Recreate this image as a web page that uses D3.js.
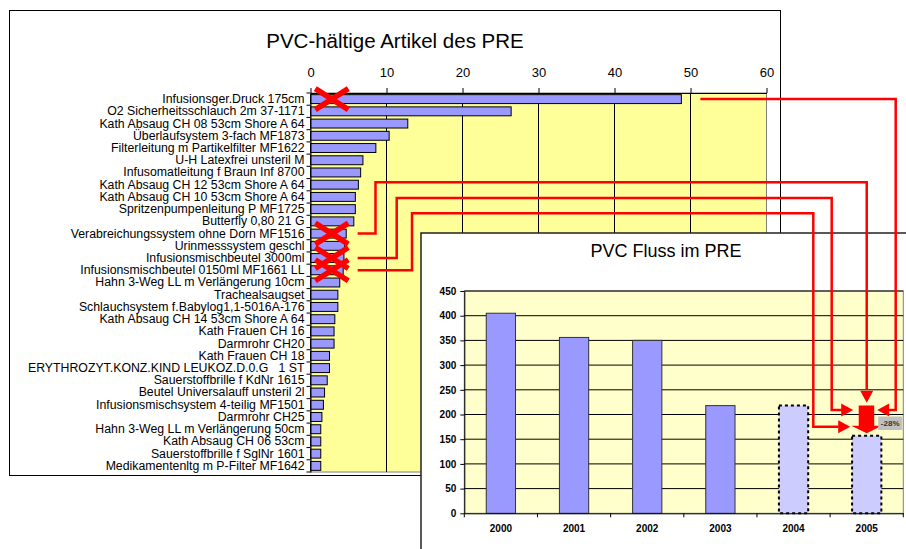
<!DOCTYPE html>
<html>
<head>
<meta charset="utf-8">
<script src="https://cdn.jsdelivr.net/npm/d3@7"></script>
<style>
  body { margin: 0; background: #fff; }
  svg { display: block; font-family: Arial, "Liberation Sans", sans-serif; }
</style>
</head>
<body>
<svg width="906" height="549"></svg>
<script>
// --- data: PVC-haltige Artikel (Stueckzahl)
var artikel = [
  "Infusionsger.Druck 175cm", "O2 Sicherheitsschlauch 2m 37-1171", "Kath Absaug CH 08 53cm Shore A 64",
  "Überlaufsystem 3-fach MF1873", "Filterleitung m Partikelfilter MF1622", "U-H Latexfrei unsteril M",
  "Infusomatleitung f Braun Inf 8700", "Kath Absaug CH 12 53cm Shore A 64", "Kath Absaug CH 10 53cm Shore A 64",
  "Spritzenpumpenleitung P MF1725", "Butterfly 0,80 21 G", "Verabreichungssystem ohne Dorn MF1516",
  "Urinmesssystem geschl", "Infusionsmischbeutel 3000ml", "Infusionsmischbeutel 0150ml MF1661 LL",
  "Hahn 3-Weg LL m Verlängerung 10cm", "Trachealsaugset", "Schlauchsystem f.Babylog1,1-5016A-176",
  "Kath Absaug CH 14 53cm Shore A 64", "Kath Frauen CH 16", "Darmrohr CH20", "Kath Frauen CH 18",
  "ERYTHROZYT.KONZ.KIND LEUKOZ.D.0.G\u00a0\u00a0\u00a01 ST", "Sauerstoffbrille f KdNr 1615",
  "Beutel Universalauff unsteril 2l", "Infusionsmischsystem 4-teilig MF1501", "Darmrohr CH25",
  "Hahn 3-Weg LL m Verlängerung 50cm", "Kath Absaug CH 06 53cm", "Sauerstoffbrille f SglNr 1601",
  "Medikamentenltg m P-Filter MF1642"
];
var artikelMenge = [48.8, 26.4, 12.8, 10.35, 8.6, 6.9, 6.6, 6.3, 5.9, 5.9, 5.7, 4.7, 4.5, 4.4, 4.3,
  3.85, 3.6, 3.6, 3.2, 3.1, 3.1, 2.5, 2.5, 2.2, 1.85, 1.7, 1.5, 1.35, 1.35, 1.35, 1.35];
var gestrichen = [0, 11, 13, 14];          // index of crossed-out articles
var artikelTicks = [0, 10, 20, 30, 40, 50, 60];

// --- data: PVC Fluss
var jahre = ["2000", "2001", "2002", "2003", "2004", "2005"];
var pvcFluss = [405, 356, 350, 218, 218, 157];
var prognose = [false, false, false, false, true, true];
var flussTicks = [0, 50, 100, 150, 200, 250, 300, 350, 400, 450];
var reduktion = "-28%";

var svg = d3.select('svg');
var red = '#ff0000';

// ================= chart 1 =================
svg.append('rect')
  .attr('x', 9.5).attr('y', 10.5).attr('width', 771).attr('height', 465)
  .attr('fill', '#fff').attr('stroke', '#000').attr('stroke-width', 1);

svg.append('text')
  .attr('x', 395).attr('y', 48)
  .attr('text-anchor', 'middle')
  .style('font-size', '20.5px')
  .text('PVC-hältige Artikel des PRE');

var x1 = d3.scaleLinear().domain([0, 60]).range([310.5, 766.5]);
var y1 = d3.scaleBand().domain(artikel).range([93, 472]).paddingInner(0.27).paddingOuter(0.135);
function rowY(i) { return y1(artikel[i]) + y1.bandwidth() / 2; }

svg.append('rect')
  .attr('x', x1(0)).attr('y', 93)
  .attr('width', x1(60) - x1(0)).attr('height', 379)
  .attr('fill', '#ffff99').attr('stroke', '#808080').attr('stroke-width', 1);

svg.append('g').selectAll('line')
  .data(artikelTicks.slice(1, -1))
  .join('line')
  .attr('x1', d => x1(d)).attr('x2', d => x1(d))
  .attr('y1', 93).attr('y2', 472)
  .attr('stroke', '#000').attr('stroke-width', 1);

svg.append('g')
  .selectAll('.bar')
  .data(artikelMenge)
  .join('rect')
  .attr('class', 'bar')
  .attr('x', x1(0))
  .attr('y', (d, i) => y1(artikel[i]))
  .attr('width', d => x1(d) - x1(0))
  .attr('height', y1.bandwidth())
  .attr('fill', '#9999ff')
  .attr('stroke', '#000').attr('stroke-width', 1);

var topAxis = svg.append('g')
  .attr('transform', 'translate(0,93)')
  .call(d3.axisTop(x1).tickValues(artikelTicks).tickSize(5).tickPadding(11).tickSizeOuter(0));
topAxis.select('.domain').attr('stroke', '#000');
topAxis.selectAll('text').style('font-size', '13px').attr('fill', '#000');

var leftAxis = svg.append('g')
  .attr('transform', 'translate(' + x1(0) + ',0)')
  .call(d3.axisLeft(y1).tickSize(0).tickPadding(6).tickSizeOuter(0));
leftAxis.select('.domain').attr('stroke', '#000');
leftAxis.selectAll('text').style('font-size', '12.3px').attr('fill', '#000');

svg.append('g').selectAll('line')
  .data(d3.range(artikel.length + 1))
  .join('line')
  .attr('x1', x1(0) - 4).attr('x2', x1(0))
  .attr('y1', d => 93 + d * y1.step()).attr('y2', d => 93 + d * y1.step())
  .attr('stroke', '#000');

// ================= chart 2 =================
svg.append('rect')
  .attr('x', 421).attr('y', 233).attr('width', 600).attr('height', 400)
  .attr('fill', '#fff').attr('stroke', '#222').attr('stroke-width', 1.5);

svg.append('text')
  .attr('x', 666).attr('y', 257)
  .attr('text-anchor', 'middle')
  .style('font-size', '18px')
  .text('PVC Fluss im PRE');

var x2 = d3.scaleBand().domain(jahre).range([464.3, 903.3]).paddingInner(0.6).paddingOuter(0.3);
var y2 = d3.scaleLinear().domain([0, 450]).range([513.3, 291]);

svg.append('rect')
  .attr('x', 464.3).attr('y', y2(450))
  .attr('width', 439).attr('height', y2(0) - y2(450))
  .attr('fill', '#ffffcc').attr('stroke', '#808080');

svg.append('g').selectAll('line')
  .data(flussTicks.slice(1))
  .join('line')
  .attr('x1', 464.3).attr('x2', 903.3)
  .attr('y1', d => y2(d)).attr('y2', d => y2(d))
  .attr('stroke', '#000');

svg.append('g').selectAll('rect')
  .data(pvcFluss)
  .join('rect')
  .attr('x', (d, i) => x2(jahre[i]))
  .attr('y', d => y2(d))
  .attr('width', x2.bandwidth())
  .attr('height', d => y2(0) - y2(d))
  .attr('fill', (d, i) => prognose[i] ? '#ccccff' : '#9999ff')
  .attr('stroke', (d, i) => prognose[i] ? '#000' : '#333')
  .attr('stroke-width', (d, i) => prognose[i] ? 2 : 1)
  .attr('stroke-dasharray', (d, i) => prognose[i] ? '3,3' : null);

var yAxis2 = svg.append('g')
  .attr('transform', 'translate(464.3,0)')
  .call(d3.axisLeft(y2).tickValues(flussTicks).tickSize(4).tickPadding(4).tickSizeOuter(0));
yAxis2.select('.domain').attr('stroke', '#000');
yAxis2.selectAll('text').style('font-size', '10px').style('font-weight', 'bold').attr('fill', '#000');

var xAxis2 = svg.append('g')
  .attr('transform', 'translate(0,' + y2(0) + ')')
  .call(d3.axisBottom(x2).tickSize(0).tickPadding(12).tickSizeOuter(0));
xAxis2.select('.domain').attr('stroke', '#000');
xAxis2.selectAll('text').style('font-size', '10px').style('font-weight', 'bold').attr('fill', '#000');

svg.append('g').selectAll('line')
  .data(d3.range(jahre.length + 1))
  .join('line')
  .attr('x1', d => 464.3 + d * x2.step()).attr('x2', d => 464.3 + d * x2.step())
  .attr('y1', y2(0)).attr('y2', y2(0) + 4)
  .attr('stroke', '#000');

// ================= red annotations =================
var mid = x2('2005') + x2.bandwidth() / 2;
var lineGen = d3.line();
var routes = [
  { pts: [[x1(51.3), rowY(0)], [895.7, rowY(0)], [895.7, y2(209)], [mid + 22, y2(209)]], tip: [mid + 10.5, y2(209)] },
  { pts: [[x1(6.2), rowY(11)], [375.5, rowY(11)], [375.5, 182.3], [mid, 182.3], [mid, y2(251)]], tip: [mid, y2(224)] },
  { pts: [[x1(6.2), rowY(13)], [396.7, rowY(13)], [396.7, 198], [831.7, 198], [831.7, y2(209)], [mid - 25, y2(209)]], tip: [mid - 13.5, y2(209)] },
  { pts: [[x1(6.2), rowY(14)], [412, rowY(14)], [412, 213.3], [813.3, 213.3], [813.3, y2(175)], [mid - 28, y2(175)]], tip: [mid - 16.5, y2(175)] }
];

var anno = svg.append('g');
routes.forEach(function(r) {
  anno.append('path')
    .attr('d', lineGen(r.pts))
    .attr('fill', 'none').attr('stroke', red).attr('stroke-width', 2.5);
  var last = r.pts[r.pts.length - 1];
  var dx = r.tip[0] - last[0], dy = r.tip[1] - last[1];
  var len = Math.sqrt(dx * dx + dy * dy), ux = dx / len, uy = dy / len;
  var bx = r.tip[0] - ux * 12, by = r.tip[1] - uy * 12;
  anno.append('path')
    .attr('d', 'M' + r.tip + 'L' + [bx - uy * 6.5, by + ux * 6.5] + 'L' + [bx + uy * 6.5, by - ux * 6.5] + 'Z')
    .attr('fill', red);
});

// crosses over removed articles
anno.selectAll('.cross')
  .data(gestrichen)
  .join('path')
  .attr('class', 'cross')
  .attr('d', function(i) {
    var cx = x1(2.8), cy = rowY(i);
    return 'M' + [cx - 16.5, cy - 10.5] + 'L' + [cx + 16.5, cy + 10.5] +
           'M' + [cx - 16.5, cy + 10.5] + 'L' + [cx + 16.5, cy - 10.5];
  })
  .attr('stroke', red).attr('stroke-width', 5.5).attr('fill', 'none');

// block arrow 2004 -> 2005
anno.append('path')
  .attr('d', 'M' + [mid - 8, y2(pvcFluss[4])] + 'L' + [mid + 7.5, y2(pvcFluss[4])] +
        'L' + [mid + 7.5, y2(177)] + 'L' + [mid + 15, y2(177)] + 'L' + [mid, y2(pvcFluss[5] + 5)] +
        'L' + [mid - 15.5, y2(177)] + 'L' + [mid - 8, y2(177)] + 'Z')
  .attr('fill', red);

anno.append('rect')
  .attr('x', mid + 11.5).attr('y', 416.5).attr('width', 24).attr('height', 13.5)
  .attr('fill', '#c0c0c0');
anno.append('text')
  .attr('x', mid + 23.5).attr('y', 426)
  .attr('text-anchor', 'middle')
  .style('font-size', '8px').style('font-weight', 'bold')
  .attr('fill', '#333')
  .text(reduktion);
</script>
</body>
</html>
